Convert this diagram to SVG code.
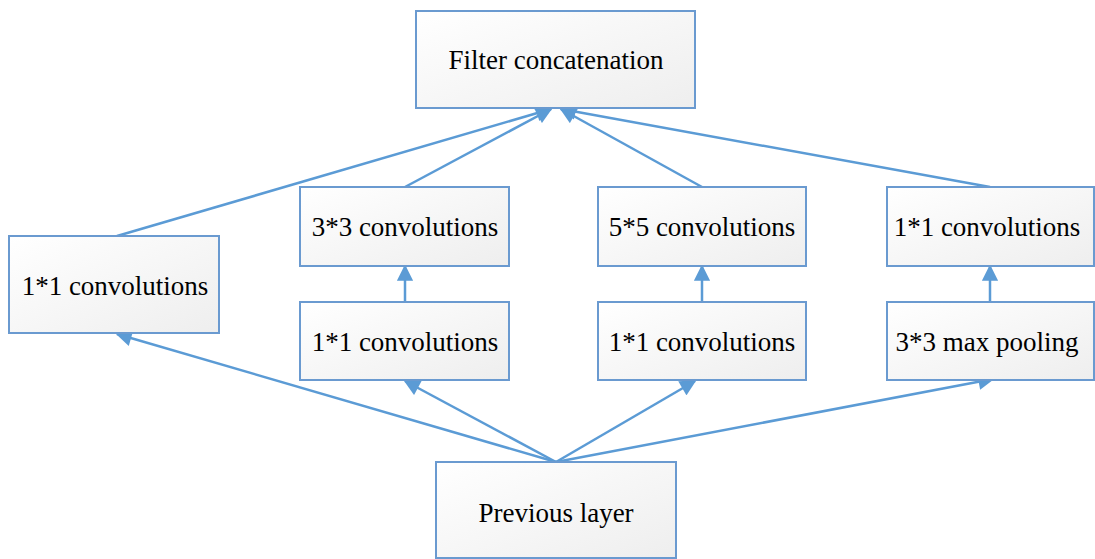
<svg xmlns="http://www.w3.org/2000/svg" width="1095" height="559" viewBox="0 0 1095 559">
<style>
.box{fill:url(#g);stroke:#6a9ad0;stroke-width:2}
.t{font-family:"Liberation Serif","Times New Roman","DejaVu Serif",serif;font-size:27px;fill:#000;text-anchor:middle}
.c{stroke:#5b9bd5;stroke-width:2.5;fill:none;marker-end:url(#a)}
</style>
<defs>
<linearGradient id="g" x1="0" y1="0" x2="1" y2="1">
<stop offset="0" stop-color="#ffffff"/>
<stop offset="1" stop-color="#eeeeee"/>
</linearGradient>
<marker id="a" viewBox="0 0 10 10" refX="9" refY="5" markerWidth="7" markerHeight="6.5" orient="auto" markerUnits="strokeWidth">
<path d="M0,0 L10,5 L0,10 z" fill="#5b9bd5"/>
</marker>
</defs>
<rect width="1095" height="559" fill="#fff"/>
<g id="connectors">
<line class="c" x1="117" y1="236" x2="551" y2="109"/>
<line class="c" x1="405" y1="187" x2="551" y2="109"/>
<line class="c" x1="702" y1="187" x2="561" y2="109"/>
<line class="c" x1="990" y1="187" x2="561" y2="109"/>
<line class="c" x1="405" y1="302" x2="405" y2="266"/>
<line class="c" x1="702" y1="302" x2="702" y2="266"/>
<line class="c" x1="990" y1="302" x2="990" y2="266"/>
<line class="c" x1="556" y1="462" x2="117" y2="334"/>
<line class="c" x1="556" y1="462" x2="405" y2="381"/>
<line class="c" x1="556" y1="462" x2="695" y2="381"/>
<line class="c" x1="556" y1="462" x2="993" y2="379"/>
</g>
<g id="filter"><rect class="box" x="416" y="11" width="279" height="97"/><text class="t" x="556" y="69">Filter concatenation</text></g>
<g id="conv1a"><rect class="box" x="9" y="236" width="210" height="97"/><text class="t" x="115" y="295">1*1 convolutions</text></g>
<g id="conv3"><rect class="box" x="300" y="187" width="209" height="79"/><text class="t" x="405" y="236">3*3 convolutions</text></g>
<g id="conv1b"><rect class="box" x="300" y="302" width="209" height="78"/><text class="t" x="405" y="351">1*1 convolutions</text></g>
<g id="conv5"><rect class="box" x="598" y="187" width="208" height="79"/><text class="t" x="702" y="236">5*5 convolutions</text></g>
<g id="conv1c"><rect class="box" x="598" y="302" width="208" height="78"/><text class="t" x="702" y="351">1*1 convolutions</text></g>
<g id="conv1d"><rect class="box" x="887" y="187" width="207" height="79"/><text class="t" x="987" y="236">1*1 convolutions</text></g>
<g id="pool"><rect class="box" x="887" y="302" width="207" height="78"/><text class="t" x="987" y="351">3*3 max pooling</text></g>
<g id="prev"><rect class="box" x="436" y="462" width="240" height="96"/><text class="t" x="556" y="522">Previous layer</text></g>
</svg>
